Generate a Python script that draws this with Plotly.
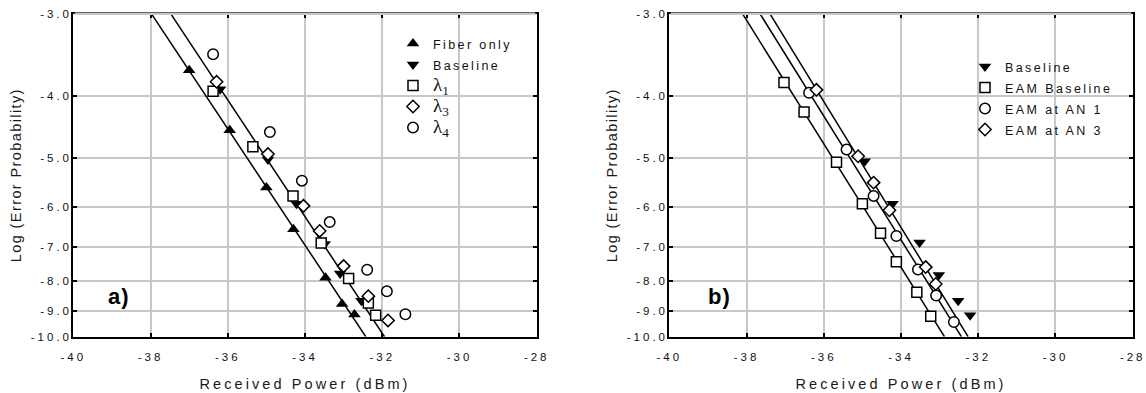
import numpy as np
import plotly.graph_objects as go

# ---------------- data ----------------
x_ticks = [-40, -38, -36, -34, -32, -30, -28]
y_ticks = [-3.0, -4.0, -5.0, -6.0, -7.0, -8.0, -9.0, -10.0]
y_ticktext = ["-3.0", "-4.0", "-5.0", "-6.0", "-7.0", "-8.0", "-9.0", "-10.0"]

# Panel a)
fiber_x = [-37.0, -35.95, -35.0, -34.3, -33.47, -33.04, -32.72]
fiber_y = [-3.65, -4.52, -5.58, -6.54, -7.89, -8.76, -9.14]
base_a_x = [-36.2, -34.96, -34.22, -33.49, -33.09, -32.54]
base_a_y = [-3.9, -5.03, -5.93, -6.92, -7.76, -8.65]
l1_x = [-36.38, -35.35, -34.31, -33.58, -32.87, -32.36, -32.17]
l1_y = [-3.93, -4.8, -5.76, -6.89, -7.92, -8.73, -9.17]
l3_x = [-36.29, -34.96, -34.04, -33.62, -33.0, -32.36, -31.85]
l3_y = [-3.8, -4.93, -5.98, -6.58, -7.54, -8.49, -9.36]
l4_x = [-36.38, -34.91, -34.08, -33.36, -32.39, -31.88, -31.4]
l4_y = [-3.45, -4.55, -5.44, -6.36, -7.65, -8.33, -9.13]

# Panel b)
base_b_x = [-34.94, -34.22, -33.52, -33.02, -32.52, -32.21]
base_b_y = [-5.06, -5.93, -6.88, -7.81, -8.65, -9.17]
eam_x = [-37.03, -36.51, -35.67, -35.0, -34.53, -34.12, -33.59, -33.23]
eam_y = [-3.81, -4.23, -5.08, -5.93, -6.64, -7.41, -8.36, -9.2]
an1_x = [-36.38, -35.41, -34.71, -34.12, -33.56, -33.09, -32.63]
an1_y = [-3.95, -4.85, -5.76, -6.71, -7.64, -8.47, -9.42]
an3_x = [-36.19, -35.11, -34.71, -34.3, -33.36, -33.1]
an3_y = [-3.91, -4.97, -5.48, -6.08, -7.57, -8.09]

# ---------------- helpers ----------------
P = -0.15  # BER axis warp: t = (-log BER)^P


def T(v):
    return np.power(-np.asarray(v, dtype=float), P)


def fit_line(xs, ys):
    b, a = np.polyfit(np.asarray(xs), T(ys), 1)
    yy = np.array([y_ticks[0], y_ticks[-1]])
    xx = (T(yy) - a) / b
    return xx, T(yy)


FONT = "Liberation Sans, Arial, sans-serif"
BLACK = "black"
GRID = "#c8c8c8"


def lam(n):
    return ("<span style=\"font-family:'Liberation Serif';font-size:19px\">λ<sub>%d</sub></span>" % n)


def small(t):
    return "<span style=\"font-size:12.5px\">%s</span>" % t


fig = go.Figure()


def add_line(xs, ys, xa, ya):
    lx, ly = fit_line(xs, ys)
    fig.add_trace(go.Scatter(x=lx, y=ly, mode="lines", xaxis=xa, yaxis=ya,
                             line=dict(color=BLACK, width=1.5), showlegend=False,
                             hoverinfo="skip"))


def add_pts(xs, ys, name, symbol, size, filled, xa, ya, legend):
    fig.add_trace(go.Scatter(
        x=xs, y=T(ys), mode="markers", name=name, xaxis=xa, yaxis=ya, legend=legend,
        marker=dict(symbol=symbol, size=size,
                    color=BLACK if filled else "white",
                    line=dict(color=BLACK, width=0 if filled else 1.5))))


# panel a lines + points
add_line(fiber_x, fiber_y, "x", "y")
add_line(base_a_x, base_a_y, "x", "y")
add_pts(fiber_x, fiber_y, small("Fiber only"), "triangle-up", 11, True, "x", "y", "legend")
add_pts(base_a_x, base_a_y, small("Baseline"), "triangle-down", 11, True, "x", "y", "legend")
add_pts(l1_x, l1_y, lam(1), "square", 10, False, "x", "y", "legend")
add_pts(l3_x, l3_y, lam(3), "diamond", 9.5, False, "x", "y", "legend")
add_pts(l4_x, l4_y, lam(4), "circle", 10.5, False, "x", "y", "legend")

# panel b lines + points
add_line(eam_x, eam_y, "x2", "y2")
add_line(an1_x, an1_y, "x2", "y2")
add_line(an3_x, an3_y, "x2", "y2")
add_pts(base_b_x, base_b_y, small("Baseline"), "triangle-down", 11, True, "x2", "y2", "legend2")
add_pts(eam_x, eam_y, small("EAM Baseline"), "square", 10, False, "x2", "y2", "legend2")
add_pts(an1_x, an1_y, small("EAM at AN 1"), "circle", 10.5, False, "x2", "y2", "legend2")
add_pts(an3_x, an3_y, small("EAM at AN 3"), "diamond", 9.5, False, "x2", "y2", "legend2")

W, H = 1146, 393
xdom_a = [73.3 / W, 536.7 / W]
xdom_b = [669.3 / W, 1132.7 / W]
ydom = [(H - 336.7) / H, (H - 13.7) / H]

xcommon = dict(range=[x_ticks[0], x_ticks[-1]], tickvals=x_ticks,
               ticktext=[str(v) for v in x_ticks], automargin=False,
               ticks="inside", ticklen=4, tickwidth=1.5, tickcolor=BLACK,
               ticklabelstandoff=8,
               showgrid=True, gridcolor=GRID, gridwidth=1.5,
               showline=True, linecolor=BLACK, linewidth=2, mirror="ticks",
               zeroline=False, tickfont=dict(family=FONT, size=11.5, color="#111"),
               title=dict(text="Received Power (dBm)", standoff=17,
                          font=dict(family=FONT, size=14.5, color="#1a1a1a")))
ycommon = dict(range=[float(T(y_ticks[-1])), float(T(y_ticks[0]))],
               tickvals=[float(v) for v in T(y_ticks)], ticktext=y_ticktext,
               automargin=False,
               ticks="inside", ticklen=4, tickwidth=1.5, tickcolor=BLACK,
               ticklabelstandoff=-3,
               showgrid=True, gridcolor=GRID, gridwidth=1.5,
               showline=True, linecolor=BLACK, linewidth=2, mirror="ticks",
               zeroline=False, tickfont=dict(family=FONT, size=11.5, color="#111"),
               title=dict(text="Log (Error Probability)", standoff=21,
                          font=dict(family=FONT, size=14.5, color="#1a1a1a")))

legend_common = dict(font=dict(family=FONT, size=13.85, color="#111"),
                     bgcolor="rgba(0,0,0,0)", borderwidth=0, tracegroupgap=0,
                     itemwidth=30, xanchor="left", yanchor="top")

fig.update_layout(
    width=W, height=H, autosize=False,
    margin=dict(l=0, r=0, t=0, b=0, autoexpand=False),
    paper_bgcolor="white", plot_bgcolor="white",
    xaxis=dict(domain=xdom_a, anchor="y", **xcommon),
    yaxis=dict(domain=ydom, anchor="x", **ycommon),
    xaxis2=dict(domain=xdom_b, anchor="y2", **xcommon),
    yaxis2=dict(domain=ydom, anchor="x2", **ycommon),
    legend=dict(x=393 / W, y=(H - 28) / H, **legend_common),
    legend2=dict(x=965 / W, y=(H - 51) / H, **legend_common),
    annotations=[
        dict(text="<b>a)</b>", xref="x domain", yref="y domain", x=0.0986, y=0.126,
             xanchor="center", yanchor="middle", showarrow=False,
             font=dict(family=FONT, size=22, color=BLACK)),
        dict(text="<b>b)</b>", xref="x2 domain", yref="y2 domain", x=0.108, y=0.126,
             xanchor="center", yanchor="middle", showarrow=False,
             font=dict(family=FONT, size=22, color=BLACK)),
    ],
    shapes=[
        dict(type="line", xref="x domain", yref="y domain", x0=0.003, x1=0.997, y0=1, y1=1,
             line=dict(color=GRID, width=2.5), layer="above"),
        dict(type="line", xref="x2 domain", yref="y2 domain", x0=0.003, x1=0.997, y0=1, y1=1,
             line=dict(color=GRID, width=2.5), layer="above"),
    ],
)

css = (
    "html, body { margin: 0 !important; padding: 0 !important; overflow: hidden; }"
    ".xtick text, .x2tick text, .ytick text, .y2tick text { letter-spacing: 3px; }"
    ".g-xtitle text, .g-x2title text { letter-spacing: 3.1px; }"
    ".g-ytitle text, .g-y2title text { letter-spacing: 1.4px; }"
    "text.legendtext, text.legend2text { letter-spacing: 2.4px; }"
    "text.legendtext tspan[style*='Serif'], text.legendtext tspan[style*='Serif'] tspan { letter-spacing: 0; }"
    "text.annotation-text { letter-spacing: 1px; }"
)

post = """
(function(){
  var st = document.createElement('style');
  st.textContent = %s;
  document.head.appendChild(st);
  var gd = document.getElementById('{plot_id}');
  function unclip(){
    gd.querySelectorAll('g.infolayer [clip-path]').forEach(function(e){
      var p = e.parentNode;
      while (p && p !== gd) {
        if (p.classList && (p.classList.contains('legend') || p.classList.contains('legend2'))) {
          e.removeAttribute('clip-path'); break;
        }
        p = p.parentNode;
      }
    });
  }
  unclip();
  if (gd.on) { gd.on('plotly_afterplot', unclip); }
  setTimeout(unclip, 30);
})();
""" % repr(css)

fig.write_html("out.html", config={"responsive": False, "displayModeBar": False},
               post_script=post)
